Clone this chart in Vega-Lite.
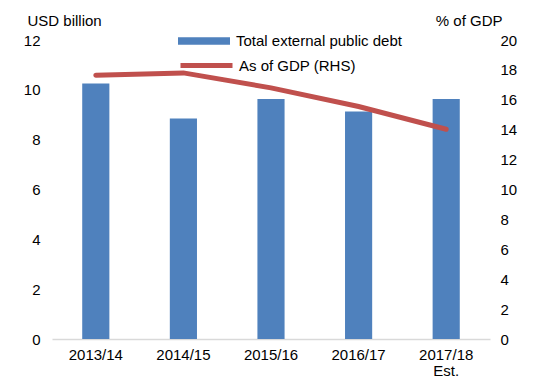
{
  "$schema": "https://vega.github.io/schema/vega-lite/v6.json",
  "width": 438,
  "height": 299,
  "autosize": {"type": "none"},
  "padding": {"left": 52, "top": 40, "right": 46, "bottom": 43},
  "background": "white",
  "config": {
    "view": {"stroke": null},
    "font": "Liberation Sans",
    "axis": {"labelFont": "Liberation Sans", "titleFont": "Liberation Sans", "labelFontSize": 15, "titleFontSize": 15, "labelColor": "#000000", "titleColor": "#000000", "titleFontWeight": "normal", "grid": false, "ticks": false, "domain": false},
    "legend": {"labelFont": "Liberation Sans", "labelFontSize": 15, "labelColor": "#000000", "labelLimit": 300}
  },
  "data": {
    "values": [
      {"year": "2013/14", "debt": 10.25, "gdp": 17.65},
      {"year": "2014/15", "debt": 8.85, "gdp": 17.8},
      {"year": "2015/16", "debt": 9.63, "gdp": 16.8},
      {"year": "2016/17", "debt": 9.13, "gdp": 15.55},
      {"year": "2017/18 Est.", "debt": 9.63, "gdp": 14.03}
    ]
  },
  "encoding": {
    "x": {
      "field": "year",
      "type": "nominal",
      "sort": null,
      "scale": {"paddingInner": 0, "paddingOuter": 0},
      "axis": {
        "title": null,
        "labelAngle": 0,
        "labelPadding": 8,
        "domain": true,
        "domainColor": "#d9d9d9",
        "domainWidth": 1.5,
        "labelExpr": "datum.value == '2017/18 Est.' ? ['2017/18', 'Est.'] : datum.value",
        "labelLineHeight": 16
      }
    }
  },
  "layer": [
    {
      "mark": {"type": "bar", "width": {"band": 0.31}, "color": "#4F81BD"},
      "encoding": {
        "y": {
          "field": "debt",
          "type": "quantitative",
          "scale": {"domain": [0, 12]},
          "axis": {"values": [0, 2, 4, 6, 8, 10, 12], "labelPadding": 12, "title": "USD billion", "titleAngle": 0, "titleAlign": "left", "titleBaseline": "middle", "titleX": -25, "titleY": -20}
        },
        "fill": {
          "datum": "Total external public debt",
          "type": "nominal",
          "scale": {"range": ["#4F81BD"]},
          "legend": {"title": null, "orient": "none", "legendX": 126, "legendY": -25, "symbolType": "M-1,-0.14H1V0.14H-1Z", "symbolSize": 2704, "symbolStrokeWidth": 0, "labelOffset": 6, "padding": 0}
        }
      }
    },
    {
      "mark": {"type": "line", "strokeWidth": 5, "color": "#C0504D", "strokeCap": "round"},
      "encoding": {
        "y": {
          "field": "gdp",
          "type": "quantitative",
          "scale": {"domain": [0, 20]},
          "axis": {"orient": "right", "values": [0, 2, 4, 6, 8, 10, 12, 14, 16, 18, 20], "labelPadding": 10, "title": "% of GDP", "titleAngle": 0, "titleAlign": "right", "titleBaseline": "middle", "titleX": 12, "titleY": -20}
        },
        "stroke": {
          "datum": "As of GDP (RHS)",
          "type": "nominal",
          "scale": {"range": ["#C0504D"]},
          "legend": {"title": null, "orient": "none", "legendX": 126, "legendY": -3, "symbolType": "stroke", "symbolSize": 2704, "symbolStrokeWidth": 5, "labelOffset": 4, "padding": 0}
        }
      }
    }
  ],
  "resolve": {"scale": {"y": "independent", "fill": "independent", "stroke": "independent"}}
}
